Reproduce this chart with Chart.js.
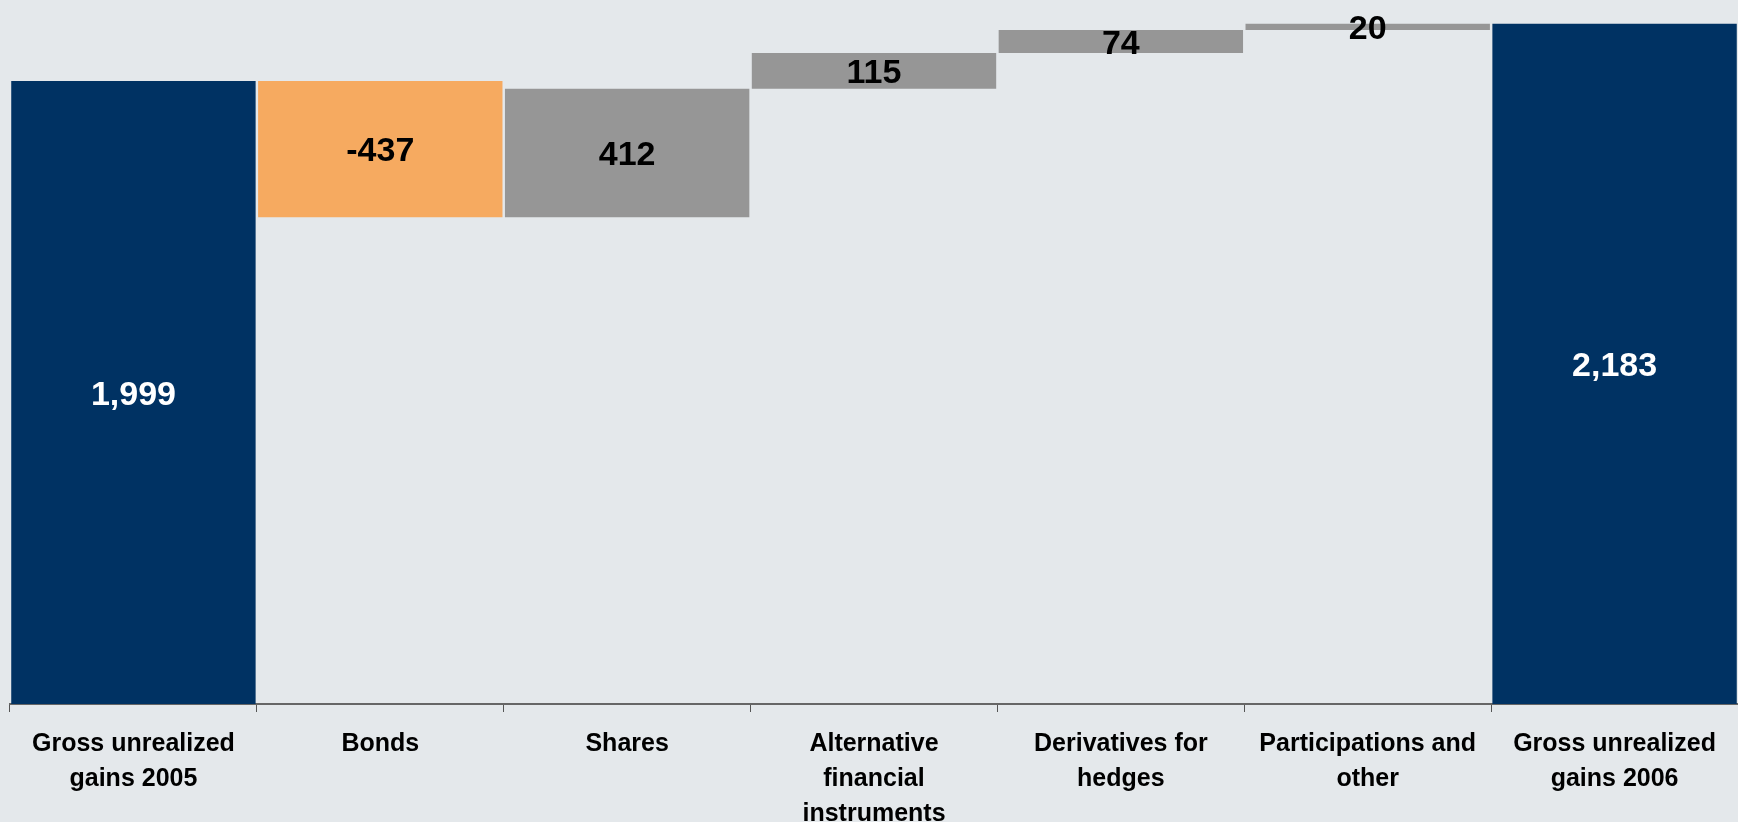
<!DOCTYPE html>
<html>
<head>
<meta charset="utf-8">
<script src="https://cdn.jsdelivr.net/npm/chart.js@4"></script>
<style>
  html, body { margin: 0; padding: 0; background: #E4E8EB; }
  #wrap { width: 1738px; height: 822px; }
</style>
</head>
<body>
<div id="wrap"><canvas id="c" width="1738" height="822"></canvas></div>
<script>
const categories = [
  ['Gross unrealized', 'gains 2005'],
  ['Bonds'],
  ['Shares'],
  ['Alternative', 'financial', 'instruments'],
  ['Derivatives for', 'hedges'],
  ['Participations and', 'other'],
  ['Gross unrealized', 'gains 2006']
];
const changes = [1999, -437, 412, 115, 74, 20, 2183];
const isTotal = [true, false, false, false, false, false, true];
const valueLabels = ['1,999', '-437', '412', '115', '74', '20', '2,183'];

const NAVY = '#003263', ORANGE = '#F6AA60', GREY = '#969696';

// Build floating ranges from the changes
const ranges = [];
let run = 0;
changes.forEach((v, i) => {
  if (isTotal[i]) { ranges.push([0, v]); run = v; }
  else { ranges.push([run, run + v]); run += v; }
});
const colors = changes.map((v, i) => isTotal[i] ? NAVY : (v < 0 ? ORANGE : GREY));
const labelColors = changes.map((v, i) => isTotal[i] ? '#FFFFFF' : '#000000');

const labelPlugin = {
  id: 'valueLabels',
  afterDatasetsDraw(chart) {
    const ctx = chart.ctx;
    const meta = chart.getDatasetMeta(0);
    ctx.save();
    ctx.font = 'bold 34px "Liberation Sans", Arial, sans-serif';
    ctx.textAlign = 'center';
    ctx.textBaseline = 'middle';
    meta.data.forEach((bar, i) => {
      const p = bar.getProps(['x', 'y', 'base'], true);
      const cy = (p.y + p.base) / 2;
      ctx.fillStyle = labelColors[i];
      ctx.fillText(valueLabels[i], p.x, cy + 3);
    });
    ctx.restore();
  }
};

new Chart(document.getElementById('c'), {
  type: 'bar',
  data: {
    labels: categories,
    datasets: [{
      data: ranges,
      backgroundColor: colors,
      borderWidth: 0,
      barPercentage: 0.99,
      categoryPercentage: 1.0
    }]
  },
  options: {
    responsive: false,
    animation: false,
    layout: { padding: { left: 10, right: 0, top: 0, bottom: 0 } },
    plugins: { legend: { display: false }, tooltip: { enabled: false } },
    scales: {
      x: {
        offset: true,
        afterFit(scale) { scale.height = 118; },
        grid: {
          offset: true,
          drawOnChartArea: false,
          drawTicks: true,
          tickLength: 8,
          color: '#555555',
          lineWidth: 1
        },
        border: { display: true, color: '#666666', width: 2 },
        ticks: {
          color: '#000000',
          padding: 15,
          maxRotation: 0,
          autoSkip: false,
          font: { family: '"Liberation Sans", Arial, sans-serif', size: 25, weight: 'bold', lineHeight: '35px' }
        }
      },
      y: {
        display: false,
        min: 0,
        max: 2259
      }
    }
  },
  plugins: [labelPlugin, {
    id: 'bg',
    beforeDraw(chart) {
      const c = chart.ctx;
      c.save();
      c.fillStyle = '#E4E8EB';
      c.fillRect(0, 0, chart.width, chart.height);
      c.restore();
    }
  }]
});
</script>
</body>
</html>
